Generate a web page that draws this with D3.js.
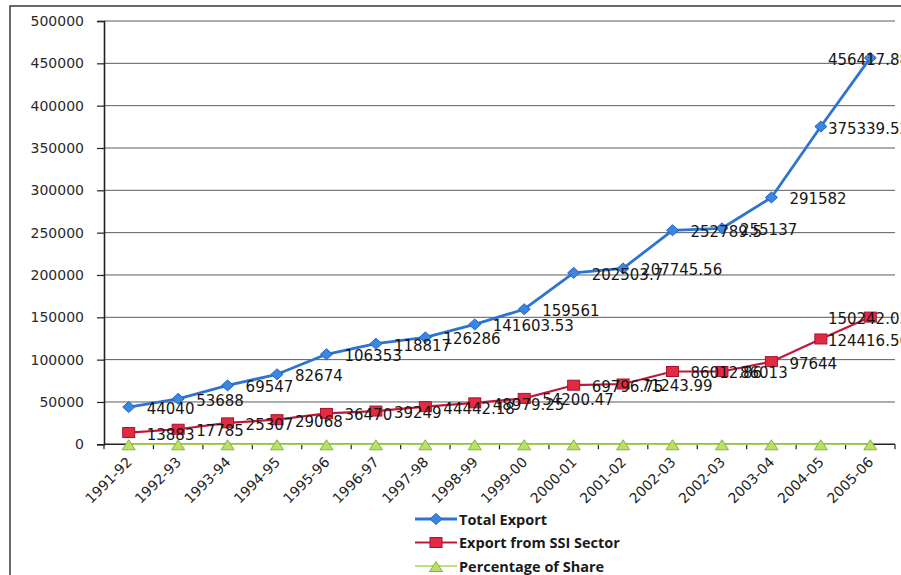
<!DOCTYPE html>
<html>
<head>
<meta charset="utf-8">
<script src="https://cdn.jsdelivr.net/npm/d3@7"></script>
<style>
  html, body { margin: 0; padding: 0; background: #fff; }
  svg { display: block; }
</style>
</head>
<body>
<svg id="chart" width="901" height="575"></svg>
<script>
// Financial years on the category axis (2002-03 appears twice in the source table)
const categories = ["1991-92","1992-93","1993-94","1994-95","1995-96","1996-97","1997-98","1998-99",
  "1999-00","2000-01","2001-02","2002-03","2002-03","2003-04","2004-05","2005-06"];

// Rs. crore
const totalExport = [44040, 53688, 69547, 82674, 106353, 118817, 126286, 141603.53,
  159561, 202503.7, 207745.56, 252789.50, 255137, 291582, 375339.52, 456417.88];
const ssiExport = [13883, 17785, 25307, 29068, 36470, 39249, 44442.18, 48979.25,
  54200.47, 69796.75, 71243.99, 86012.86, 86013, 97644, 124416.56, 150242.03];
// share of SSI exports in total exports, per cent
const shareSSI = [31.52, 33.13, 36.39, 35.16, 34.29, 33.03, 35.19, 34.59,
  33.97, 34.47, 34.29, 34.03, 33.71, 33.49, 33.15, 32.92];

const yTicks = [0, 50000, 100000, 150000, 200000, 250000, 300000, 350000, 400000, 450000, 500000];
const seriesNames = ["Total Export", "Export from SSI Sector", "Percentage of Share"];

const svg = d3.select("#chart");

// outer chart frame
svg.append("rect")
  .attr("x", 10).attr("y", 6).attr("width", 1000).attr("height", 1000)
  .attr("fill", "none").attr("stroke", "#3a3a3a").attr("stroke-width", 1.5);

const plot = { left: 104, right: 895, top: 21, bottom: 444.3 };

const x = d3.scaleBand()
  .domain(d3.range(categories.length))
  .range([plot.left, plot.right])
  .paddingInner(0).paddingOuter(0);
const cx = i => x(i) + x.bandwidth() / 2;

const y = d3.scaleLinear().domain([0, 500000]).range([plot.bottom, plot.top]);

// horizontal gridlines
svg.append("g")
  .selectAll("line")
  .data(yTicks.filter(d => d > 0))
  .join("line")
  .attr("x1", plot.left).attr("x2", plot.right)
  .attr("y1", d => y(d)).attr("y2", d => y(d))
  .attr("stroke", "#5c5c5c").attr("stroke-width", 1);

// value axis
const yAxis = svg.append("g")
  .attr("transform", `translate(${plot.left},0)`)
  .call(d3.axisLeft(y).tickValues(yTicks).tickFormat(d3.format("d")).tickSize(7).tickPadding(13));
yAxis.select(".domain").attr("stroke", "#222").attr("stroke-width", 1.6);
yAxis.selectAll(".tick line").attr("stroke", "#222").attr("stroke-width", 1.2);
yAxis.selectAll(".tick text")
  .attr("font-family", "DejaVu Sans").attr("font-size", 14).attr("fill", "#2a2a2a");

// category axis: line, boundary ticks and rotated labels
const xg = svg.append("g");
xg.append("line")
  .attr("x1", plot.left).attr("x2", plot.right)
  .attr("y1", plot.bottom).attr("y2", plot.bottom)
  .attr("stroke", "#222").attr("stroke-width", 1.4);
xg.selectAll("line.b")
  .data(d3.range(categories.length + 1))
  .join("line").attr("class", "b")
  .attr("x1", i => i < categories.length ? x(i) : plot.right)
  .attr("x2", i => i < categories.length ? x(i) : plot.right)
  .attr("y1", plot.bottom).attr("y2", plot.bottom + 5)
  .attr("stroke", "#222").attr("stroke-width", 1.2);
xg.selectAll("text")
  .data(categories)
  .join("text")
  .attr("transform", (d, i) => `translate(${cx(i) + 4},${463}) rotate(-45)`)
  .attr("text-anchor", "end")
  .attr("font-family", "DejaVu Sans").attr("font-size", 14).attr("fill", "#222")
  .text(d => d);

// series styles
const styles = [
  { values: totalExport, line: "#2d74d2", width: 2.8, fill: "#3b86e0", stroke: "#2563be", shape: "diamond" },
  { values: ssiExport,   line: "#c0183a", width: 2.2, fill: "#e22b43", stroke: "#a8122e", shape: "square" },
  { values: shareSSI,    line: "#a9d25c", width: 1.6, fill: "#b9e067", stroke: "#86b23e", shape: "triangle" }
];

function drawMarker(g, shape, s) {
  if (shape === "diamond") {
    g.append("path").attr("d", "M0,-5.5L6,0L0,5.5L-6,0Z")
      .attr("fill", s.fill).attr("stroke", s.stroke).attr("stroke-width", 1);
  } else if (shape === "square") {
    g.append("rect").attr("x", -6).attr("y", -5).attr("width", 12).attr("height", 10)
      .attr("fill", s.fill).attr("stroke", s.stroke).attr("stroke-width", 1);
  } else {
    g.append("path").attr("d", "M0,-4.5L6.5,5.5L-6.5,5.5Z")
      .attr("fill", s.fill).attr("stroke", s.stroke).attr("stroke-width", 1);
  }
}

const line = d3.line().x((d, i) => cx(i)).y(d => y(d));

styles.forEach(s => {
  svg.append("path")
    .attr("d", line(s.values))
    .attr("fill", "none").attr("stroke", s.line).attr("stroke-width", s.width)
    .attr("stroke-linejoin", "round");
  s.values.forEach((v, i) => {
    const g = svg.append("g").attr("transform", `translate(${cx(i)},${y(v)})`);
    drawMarker(g, s.shape, s);
  });
});

// data labels for the two export series, kept inside the chart's right edge
const labelLimit = 909;
[totalExport, ssiExport].forEach(vals => {
  vals.forEach((v, i) => {
    const t = svg.append("text")
      .attr("font-family", "DejaVu Sans").attr("font-size", 15).attr("fill", "#161616")
      .attr("dominant-baseline", "central")
      .attr("y", y(v) + 2)
      .text(String(v));
    const w = t.node().getComputedTextLength();
    let lx = cx(i) + 18;
    if (lx + w > labelLimit) lx = labelLimit - w;
    t.attr("x", lx);
  });
});

// legend
const legend = svg.append("g");
seriesNames.forEach((name, k) => {
  const s = styles[k];
  const ly = 519 + k * 23.5;
  legend.append("line")
    .attr("x1", 415).attr("x2", 457).attr("y1", ly).attr("y2", ly)
    .attr("stroke", s.line).attr("stroke-width", s.width);
  drawMarker(legend.append("g").attr("transform", `translate(436,${ly})`), s.shape, s);
  legend.append("text")
    .attr("x", 459).attr("y", ly)
    .attr("dominant-baseline", "central")
    .attr("font-family", "Open Sans").attr("font-weight", 700).attr("font-size", 14.5)
    .attr("fill", "#1a1a1a")
    .text(name);
});
</script>
</body>
</html>
